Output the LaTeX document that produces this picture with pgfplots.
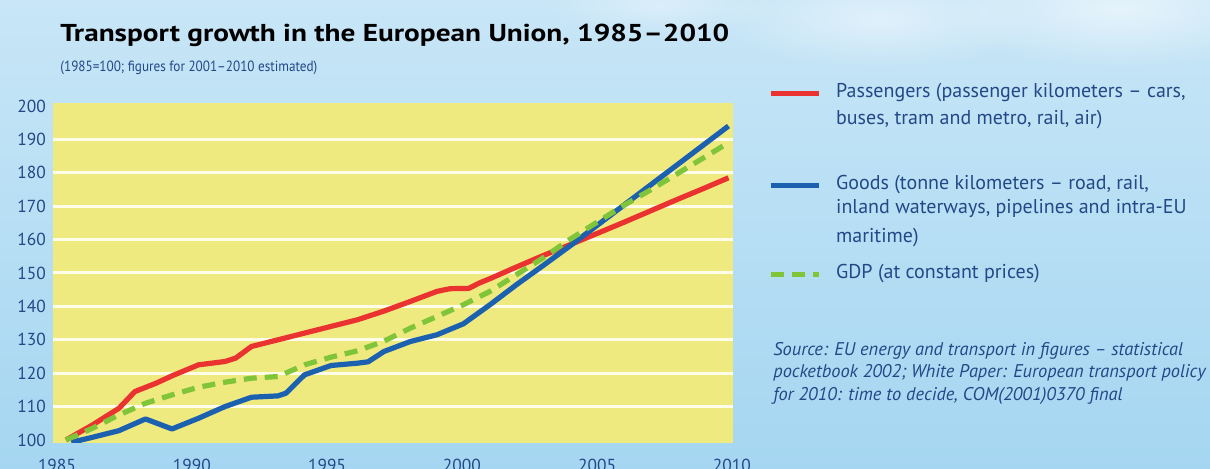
\documentclass[border=0pt]{standalone}
\usepackage{pgfplots}
\pgfplotsset{compat=1.18}
\usepackage{fontspec}
\setmainfont{PT Sans}
\usetikzlibrary{fadings}
\tikzfading[name=softcloud, inner color=transparent!0, outer color=transparent!100]
\definecolor{bgtop}{RGB}{200,230,247}
\definecolor{bgbot}{RGB}{165,214,241}
\definecolor{ylw}{RGB}{238,234,128}
\definecolor{pred}{RGB}{234,50,48}
\definecolor{gblue}{RGB}{28,96,176}
\definecolor{ggreen}{RGB}{128,196,58}
\definecolor{navy}{RGB}{35,72,135}
\definecolor{gridc}{RGB}{255,252,232}

\pgfplotstableread{
year val
1985 100
1986 104.5
1987 109.5
1987.6 114.5
1988.4 117
1989 119.2
1990 122.5
1991 123.5
1991.4 124.5
1992 128
1993 130
1994 132
1995 134
1996 136
1997 138.6
1998 141.5
1999 144.5
1999.5 145.3
2000.2 145.4
2000.6 147
2001 148.3
2002 151.8
2003 155.2
2004 158.4
2005 161.7
2006 165
2007 168.4
2008 171.8
2009 175.1
2010 178.5
}\passengers

\pgfplotstableread{
year val
1985.2 99.3
1986 100.8
1987 102.8
1988 106.3
1989 103.3
1990 106.5
1991 110
1992 112.8
1993 113.2
1993.3 114
1994 119.5
1995 122.3
1996 123
1996.4 123.4
1997 126.5
1998 129.5
1999 131.5
2000 134.8
2001 140.5
2002 146.5
2003 152.2
2004 158
2005 164
2006 170
2007 176
2008 182
2009 188
2010 194
}\goods

\pgfplotstableread{
year val
1985 100
1986 103.5
1987 107.5
1988 111
1989 113.5
1990 115.8
1991 117.3
1992 118.5
1993 119
1994 122.5
1995 124.8
1996 126.7
1997 129.6
1998 133.5
1999 137
2000 140.5
2001 144.5
2002 149.5
2003 154.5
2004 160
2005 165
2006 170
2007 174.6
2008 179.4
2009 184.2
2010 189
}\gdp

% legend rows: \lr{lift}{height}{text}
\newcommand{\lr}[3]{\raisebox{#1}[#2][0pt]{#3}}

\begin{document}
\begin{tikzpicture}[x=1pt,y=1pt]
\useasboundingbox (0,0) rectangle (605,234.5);
\clip (0,0) rectangle (605,234.5);
\shade[top color=bgtop, bottom color=bgbot] (0,0) rectangle (605,234.5);
% soft clouds
\fill[white, opacity=0.55, path fading=softcloud] (560,230) ellipse (90 and 30);
\fill[white, opacity=0.45, path fading=softcloud] (440,225) ellipse (80 and 25);
\fill[white, opacity=0.35, path fading=softcloud] (330,232) ellipse (60 and 15);

\node[anchor=base west, inner sep=0pt, font=\bfseries\fontsize{12.2}{14}\selectfont] at (30pt,213.5pt)
  {\scalebox{1.2}[1]{Transport growth in the European Union, 1985–2010}};
\node[anchor=base west, inner sep=0pt, text=navy, font=\fontsize{7.4}{9}\selectfont] at (30pt,198.5pt)
  {\scalebox{0.89}[1]{(1985=100; figures for 2001–2010 estimated)}};

\begin{axis}[
  at={(26.5pt,13pt)}, anchor=south west,
  scale only axis, width=340pt, height=170pt,
  xmin=1984.51, xmax=2010.17, ymin=99.1, ymax=200.9,
  axis line style={draw=none},
  major tick length=0pt,
  axis background/.style={fill=ylw},
  xtick={1984.66,1989.75,1994.85,1999.94,2005.04,2010.13},
  xticklabels={1985,1990,1995,2000,2005,2010},
  ytick={100,110,...,200},
  extra y ticks={110,120,...,190},
  extra y tick labels={},
  extra y tick style={grid=major, major grid style={gridc, line width=1.5pt}},
  /pgf/number format/assume math mode=true,
  tick label style={font=\fontsize{8.7}{9}\selectfont, text=navy},
  xticklabel style={yshift=-4.5pt},
  legend style={at={(1.042,1.080)}, anchor=north west, draw=none, fill=none,
    font=\fontsize{10}{12}\selectfont, text=navy, row sep=0pt,
    nodes={inner sep=0pt},
    /tikz/every odd column/.append style={column sep=7.5pt}},
  legend cell align=left,
  legend image code/.code={\draw[#1] plot coordinates {(0pt,2.5pt) (24pt,2.5pt)};},
  line join=round,
]
\addplot[pred, line width=2.6pt] table[x=year,y=val] {\passengers};
\addlegendentry{\lr{8.4pt}{17pt}{Passengers (passenger kilometers – cars,}}
\addlegendimage{empty legend}
\addlegendentry{\lr{22.4pt}{26pt}{buses, tram and metro, rail, air)}}
\addplot[gblue, line width=2.6pt] table[x=year,y=val] {\goods};
\addlegendentry{\lr{8.4pt}{17pt}{Goods (tonne kilometers – road, rail,}}
\addlegendimage{empty legend}
\addlegendentry{\lr{2.5pt}{4.6pt}{inland waterways, pipelines and intra-EU}}
\addlegendimage{empty legend}
\addlegendentry{\lr{7.9pt}{18.4pt}{maritime)}}
\addplot[ggreen, line width=2.6pt, dash pattern=on 6.5pt off 4pt] table[x=year,y=val] {\gdp};
\addlegendentry{\lr{8.4pt}{17pt}{GDP (at constant prices)}}
\end{axis}

\node[anchor=north west, inner sep=0pt, align=left, text=navy,
  font=\itshape\fontsize{9.2}{11.25}\selectfont] at (386.5pt,63.5pt)
  {Source: EU energy and transport in figures – statistical\\
   pocketbook 2002; White Paper: European transport policy\\
   for 2010: time to decide, COM(2001)0370 final};
\end{tikzpicture}
\end{document}
